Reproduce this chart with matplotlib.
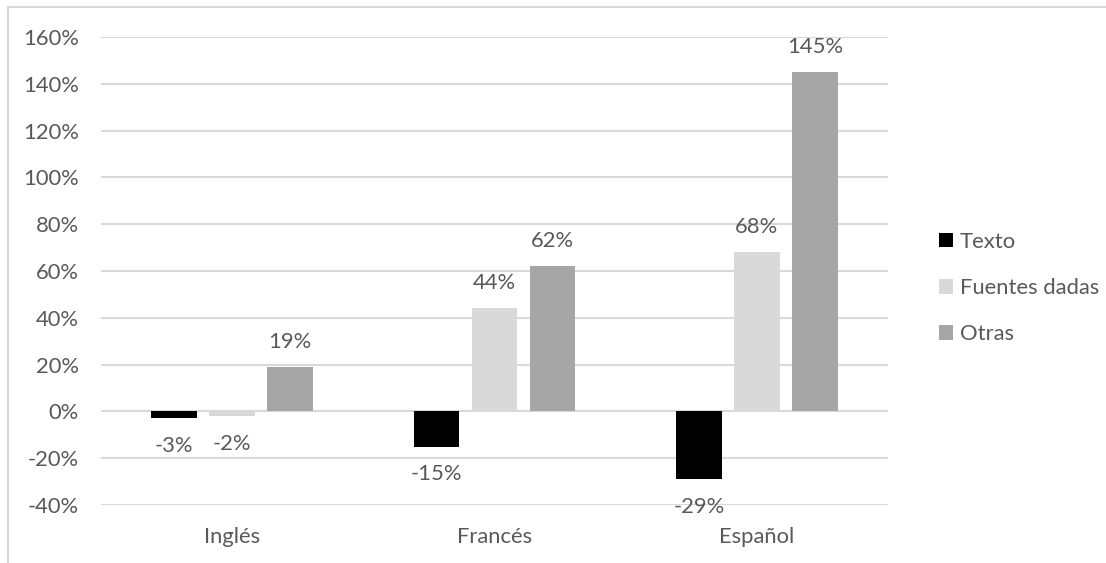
import matplotlib
matplotlib.use('Agg')
import matplotlib.pyplot as plt
from matplotlib.lines import Line2D
import numpy as np

categories = ['Inglés', 'Francés', 'Español']
series_names = ['Texto', 'Fuentes dadas', 'Otras']
texto = [-3, -15, -29]
fuentes = [-2, 44, 68]
otras = [19, 62, 145]
yticks = [-40, -20, 0, 20, 40, 60, 80, 100, 120, 140, 160]

COLORS = ['#000000', '#d9d9d9', '#a6a6a6']
TXT = '#595959'
GRID = '#d9d9d9'

plt.rcParams['font.family'] = ['Lato', 'DejaVu Sans']
plt.rcParams['font.size'] = 15.8

fig = plt.figure(figsize=(11.06, 5.63), dpi=100)
ax = fig.add_axes([101/1106, 1 - 505/563, (888 - 101)/1106, (505 - 37)/563])

x = np.arange(len(categories))
width = 0.175
step = 0.221
for i, (name, vals) in enumerate(zip(series_names, [texto, fuentes, otras])):
    bars = ax.bar(x + (i - 1) * step, vals, width, color=COLORS[i], label=name, zorder=3)
    for b, v in zip(bars, vals):
        off = 18 if v >= 0 else -20
        ax.annotate(f'{v}%', (b.get_x() + b.get_width() / 2, v), xytext=(0, off),
                    textcoords='offset points', ha='center', va='center', color=TXT)

ax.set_xlim(-0.5, 2.5)
ax.set_ylim(-40, 160)
ax.set_yticks(yticks)
ax.set_yticklabels([f'{t}%' for t in yticks])
ax.set_xticks(x)
ax.set_xticklabels(categories)
ax.tick_params(length=0, colors=TXT)
ax.tick_params(axis='y', pad=16)
ax.tick_params(axis='x', pad=16)
ax.grid(axis='y', color=GRID, linewidth=1.5, zorder=0)
for s in ax.spines.values():
    s.set_visible(False)

fig.legend(loc='center left', bbox_to_anchor=(928/1106, 1 - 288/563), frameon=False,
           handlelength=0.65, handleheight=0.65, handletextpad=0.3, labelspacing=1.2,
           borderpad=0, labelcolor=TXT)

# chart border (left and top only visible)
fig.add_artist(Line2D([8/1106, 8/1106], [0, 1 - 7/563], color=GRID, linewidth=1.5))
fig.add_artist(Line2D([8/1106, 1], [1 - 7/563, 1 - 7/563], color=GRID, linewidth=1.5))

fig.savefig('out.png', dpi=100)
plt.close(fig)
